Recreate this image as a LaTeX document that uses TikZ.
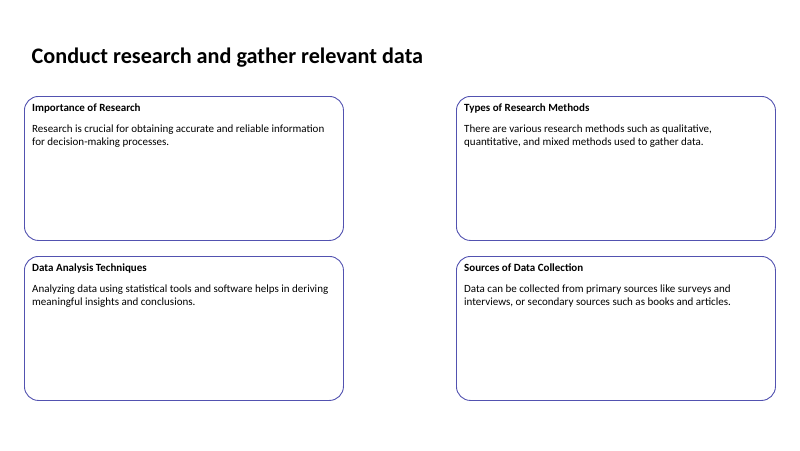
\documentclass[tikz,border=0pt]{standalone}
\usepackage{fontspec}
\setmainfont{Carlito}
\usetikzlibrary{positioning,calc}
\definecolor{boxline}{RGB}{82,82,176}
\tikzset{
  card/.style={draw=boxline,line width=0.9pt,fill=white,rounded corners=14pt,minimum width=319pt,minimum height=144pt,inner sep=0pt},
  cardhead/.style={anchor=base west,inner sep=0pt,font=\fontsize{11}{13}\selectfont\bfseries},
  cardtext/.style={anchor=base west,inner sep=0pt,align=left,font=\fontsize{11}{13.4}\selectfont}
}
\begin{document}
\begin{tikzpicture}[x=1pt,y=-1pt]
            \useasboundingbox (0,0) rectangle (800,450);
            \node[anchor=base west,inner sep=0pt,font=\fontsize{22.2}{25}\selectfont\bfseries] (title) at (31.5,63.5) {Conduct research and gather relevant data};
            \node[card,anchor=north west] (imp) at (24,96) {};
            \node[card,anchor=north west] (types) at (456,96) {};
            \node[card,anchor=north west] (ana) at (24,256) {};
            \node[card,anchor=north west] (src) at (456,256) {};
            % last line's baseline sits 13.4 below the first
            \node[cardhead] (imphead) at ($(imp.north west)+(8,15)$) {Importance of Research};
            \node[cardtext] (imptext) at ($(imp.north west)+(8,49.4)$) {Research is crucial for obtaining accurate and reliable information\\for decision-making processes.};
            \node[cardhead] (typeshead) at ($(types.north west)+(8,15)$) {Types of Research Methods};
            \node[cardtext] (typestext) at ($(types.north west)+(8,49.4)$) {There are various research methods such as qualitative,\\quantitative, and mixed methods used to gather data.};
            \node[cardhead] (anahead) at ($(ana.north west)+(8,15)$) {Data Analysis Techniques};
            \node[cardtext] (anatext) at ($(ana.north west)+(8,49.4)$) {Analyzing data using statistical tools and software helps in deriving\\meaningful insights and conclusions.};
            \node[cardhead] (srchead) at ($(src.north west)+(8,15)$) {Sources of Data Collection};
            \node[cardtext] (srctext) at ($(src.north west)+(8,49.4)$) {Data can be collected from primary sources like surveys and\\interviews, or secondary sources such as books and articles.};
        \end{tikzpicture}
\end{document}
